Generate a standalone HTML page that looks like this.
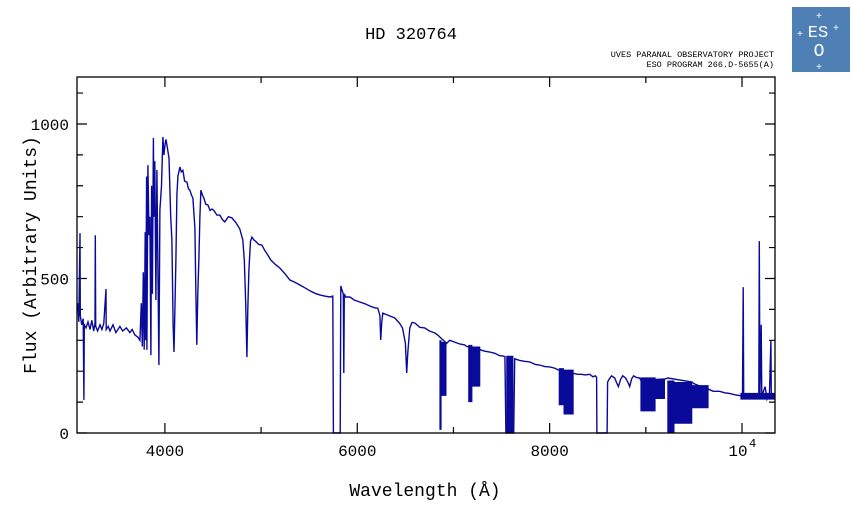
<!DOCTYPE html>
<html><head><meta charset="utf-8"><style>
body{margin:0;background:#fff;width:851px;height:511px;overflow:hidden}
svg text{font-family:"Liberation Mono","DejaVu Sans Mono",monospace;fill:#000}
</style></head><body>
<svg id="chart" width="851" height="511" xmlns="http://www.w3.org/2000/svg">
<text x="411" y="39" font-size="17" text-anchor="middle">HD 320764</text>
<text x="774" y="57" font-size="8.5" text-anchor="end" font-family="Liberation Serif">UVES PARANAL OBSERVATORY PROJECT</text>
<text x="774" y="67" font-size="8.5" text-anchor="end" font-family="Liberation Serif">ESO PROGRAM 266.D-5655(A)</text>
<g>
<rect x="792" y="7" width="58" height="65" fill="#4f80b5"/>
<text x="818" y="37" font-size="17" style="fill:#fff" font-family="Liberation Serif" text-anchor="middle">ES</text>
<text x="819" y="56" font-size="18" style="fill:#fff" font-family="Liberation Serif" text-anchor="middle">O</text>
<text x="819" y="19" font-size="10" style="fill:#fff" text-anchor="middle">+</text>
<text x="800" y="37" font-size="10" style="fill:#fff" text-anchor="middle">+</text>
<text x="836" y="31" font-size="10" style="fill:#fff" text-anchor="middle">+</text>
<text x="819" y="70" font-size="10" style="fill:#fff" text-anchor="middle">+</text>
</g>
<g id="axes"></g>
<g id="marks"></g>
<rect x="77" y="77" width="698" height="356" fill="none" stroke="#000" stroke-width="1.3"/>
<text x="425" y="496" font-size="18" text-anchor="middle">Wavelength (Å)</text>
<text transform="translate(36,255) rotate(-90)" font-size="18" text-anchor="middle">Flux (Arbitrary Units)</text>
</svg>
<script>
const wave=[
3086,3095,3105,3117,3120,3135,3150,3158,3162,3180,
3200,3221,3240,3260,3273,3276,3280,3300,3325,3345,
3365,3387,3390,3410,3429,3460,3490,3532,3560,3600,
3636,3660,3688,3720,3740,3755,3765,3775,3785,3795,
3800,3810,3813,3823,3835,3844,3854,3862,3870,3880,
3886,3895,3906,3917,3925,3938,3948,3965,3979,3990,
4000,4010,4021,4042,4060,4073,4085,4094,4104,4114,
4125,4135,4156,4170,4187,4205,4229,4245,4260,4275,
4291,4312,4322,4332,4342,4353,4364,4374,4390,4405,
4425,4447,4470,4490,4509,4540,4571,4600,4623,4660,
4696,4740,4779,4810,4825,4840,4852,4862,4873,4890,
4904,4925,4945,4975,5008,5040,5070,5100,5150,5195,
5250,5299,5350,5403,5455,5507,5560,5610,5660,5714,
5746,5752,5822,5829,5840,5855,5860,5865,5880,5922,
5970,6026,6080,6130,6180,6213,6235,6244,6255,6265,
6330,6390,6440,6470,6500,6514,6525,6546,6570,6598,
6650,6701,6750,6805,6836,6930,6961,7013,7065,7117,
7138,7273,7320,7377,7430,7481,7520,7535,7545,7626,
7637,7688,7740,7792,7850,7896,7950,8000,8050,8090,
8291,8330,8370,8416,8450,8475,8488,8491,8597,8603,
8620,8644,8676,8700,8715,8740,8760,8790,8820,8832,
8852,8873,8900,8935,8950,9200,9230,9480,9500,9560,
9611,9663,9700,9767,9820,9870,9922,9960,9990,10005,
10012,10018,10060,10100,10150,10175,10180,10186,10200,10206,
10240,10260,10286,10300,10305,10338];
const flux=[
398,420,360,647,380,350,370,107,350,340,
360,335,365,330,355,640,345,330,350,335,
355,466,335,345,330,350,325,345,330,340,
325,335,317,310,300,420,280,520,270,650,
300,830,269,867,640,700,252,800,450,955,
700,880,430,851,600,220,722,800,958,900,
930,950,932,890,700,625,350,262,400,560,
770,830,861,845,850,815,812,790,786,770,
760,663,450,285,450,566,700,786,770,760,
740,738,720,725,720,705,705,690,683,700,
696,680,660,625,560,420,246,400,527,620,
634,625,620,610,608,590,576,560,545,534,
515,495,488,479,470,460,452,447,443,440,
443,0,0,476,463,450,194,450,440,440,
430,424,418,411,405,404,380,301,360,388,
380,372,355,340,290,194,260,340,358,356,
342,340,330,324,317,290,300,294,288,285,
280,270,265,262,258,250,249,247,0,0,
240,235,232,230,222,220,215,214,210,204,
190,190,188,190,182,185,180,0,0,165,
175,185,178,160,150,175,185,178,160,150,
175,185,180,178,170,175,178,165,160,152,
150,140,135,135,130,128,124,122,120,125,
472,120,125,118,123,120,621,120,350,120,
150,110,130,300,120,116];
const bandStart=[6860,6880,7160,7200,7555,8100,8150,8950,9100,9230,9300,9480,9990];
const bandEnd=[6880,6930,7200,7273,7625,8150,8250,9100,9200,9300,9480,9650,10340];
const bandTop=[300,295,285,280,250,210,205,180,175,170,165,155,130];
const bandBot=[10,120,100,150,0,90,60,70,110,0,30,80,108];
const xTicks=[4000,6000,8000,10000];
const xLabels=["4000","6000","8000","10"];
const yTicks=[0,500,1000];
const yLabels=["0","500","1000"];
const X0=3086,X1=10343,Y0=0,Y1=1152,L=77,R=775,T=77,B=433;
const sx=w=>L+(w-X0)/(X1-X0)*(R-L);
const sy=f=>B-(f-Y0)/(Y1-Y0)*(B-T);
const NS="http://www.w3.org/2000/svg";
const axes=document.getElementById('axes'),marks=document.getElementById('marks');
function mk(p,tag,at){const e=document.createElementNS(NS,tag);for(const k in at)e.setAttribute(k,at[k]);p.appendChild(e);return e;}
for(let w=4000;w<=10000;w+=1000){const x=sx(w),len=(w%2000===0)?10:6;
 let t=mk(axes,'path',{d:`M${x},${B}v-${len}M${x},${T}v${len}`,stroke:'#000','stroke-width':1.2});
 
 }
for(let f=0;f<=1100;f+=100){const y=sy(f),len=(f%500===0)?10:6;
 let t=mk(axes,'path',{d:`M${L},${y}h${len}M${R},${y}h-${len}`,stroke:'#000','stroke-width':1.2});
 
 }
xTicks.forEach((w,i)=>{let t=mk(axes,'text',{x:sx(w),y:456,'font-size':16,'text-anchor':'middle'});t.textContent=xLabels[i];
 
 
 if(xLabels[i]==="10"){t.setAttribute('x',sx(w)-4);let s=mk(axes,'text',{x:sx(w)+7,y:447,'font-size':12});s.textContent="4";
 
 }});
yTicks.forEach((f,i)=>{let t=mk(axes,'text',{x:69,y:sy(f)+6,'font-size':16,'text-anchor':'end'});t.textContent=yLabels[i];
 
 });
bandStart.forEach((s,i)=>{const x1=sx(s),x2=sx(bandEnd[i]);let d='';
 for(let x=x1;x<=x2;x+=1){d+=`M${x.toFixed(1)},${sy(bandTop[i])}V${sy(bandBot[i])}`;}
 let p=mk(marks,'path',{d:d,stroke:'#0a0a9a','stroke-width':1.2,fill:'none'});
 
 });
let d=wave.map((w,i)=>(i?'L':'M')+sx(w).toFixed(1)+','+sy(flux[i]).toFixed(1)).join('');
let ln=mk(marks,'path',{d:d,stroke:'#0a0a9a','stroke-width':1.4,fill:'none'});


</script>
</body></html>
